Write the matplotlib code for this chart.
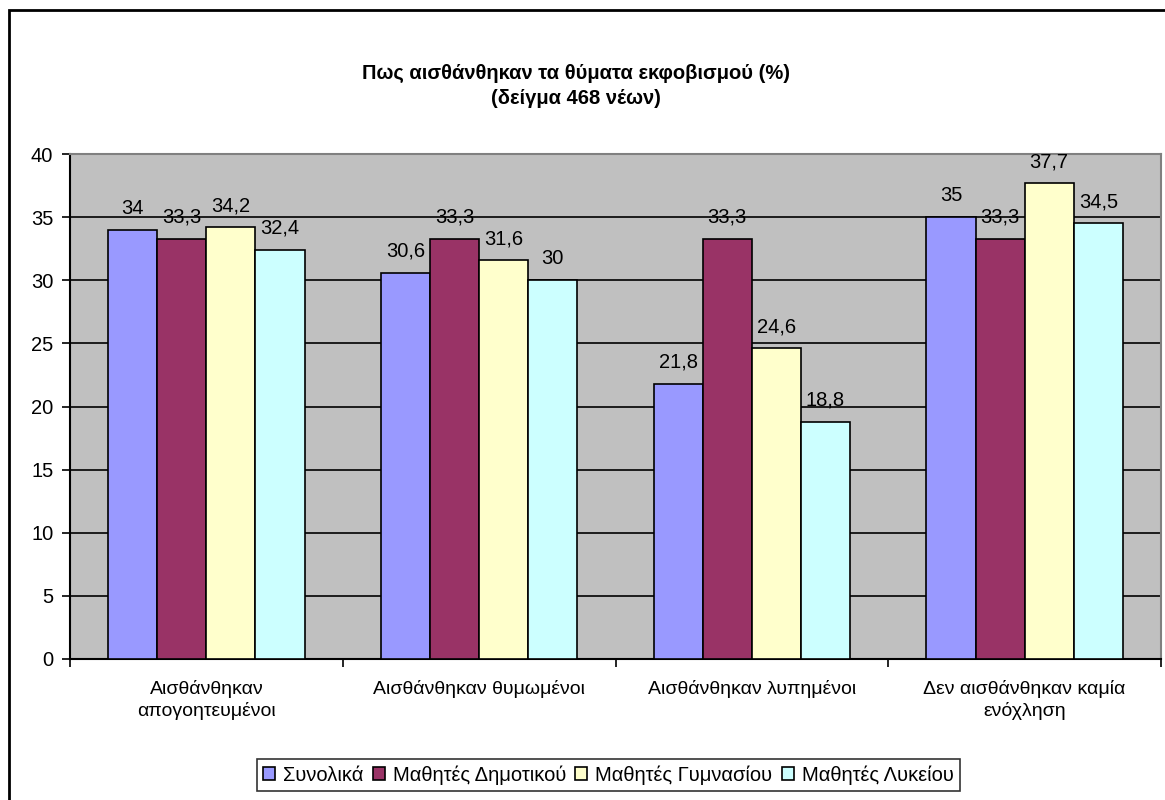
import numpy as np
import matplotlib.pyplot as plt
from matplotlib.patches import Rectangle

plt.rcParams['font.family'] = ['Liberation Sans', 'DejaVu Sans']

categories = ['Αισθάνθηκαν\nαπογοητευμένοι', 'Αισθάνθηκαν θυμωμένοι',
              'Αισθάνθηκαν λυπημένοι', 'Δεν αισθάνθηκαν καμία\nενόχληση']
series_names = ['Συνολικά', 'Μαθητές Δημοτικού', 'Μαθητές Γυμνασίου', 'Μαθητές Λυκείου']
synolika = [34, 30.6, 21.8, 35]
dimotiko = [33.3, 33.3, 33.3, 33.3]
gymnasio = [34.2, 31.6, 24.6, 37.7]
lykeio = [32.4, 30, 18.8, 34.5]
colors = ['#9999FF', '#993366', '#FFFFCC', '#CCFFFF']


def fmt(v):
    s = ('%.1f' % v).rstrip('0').rstrip('.')
    return s.replace('.', ',')


fig = plt.figure(figsize=(11.65, 8), dpi=100)
ax = fig.add_axes([70 / 1165, 1 - 659 / 800, 1091 / 1165, 505 / 800])
ax.set_facecolor('#C0C0C0')

x = np.arange(len(categories))
w = 0.18
fs = 14.5
all_series = [synolika, dimotiko, gymnasio, lykeio]
for i, vals in enumerate(all_series):
    pos = x + (i - 1.5) * w
    bars = ax.bar(pos, vals, width=w, color=colors[i], edgecolor='black',
                  linewidth=1.2, label=series_names[i], zorder=3)
    for b, v in zip(bars, vals):
        ax.text(b.get_x() + b.get_width() / 2, v + 0.95, fmt(v), ha='center',
                va='bottom', fontsize=fs, zorder=4)

ax.set_xlim(-0.5, 3.5)
ax.set_ylim(0, 40)
ax.set_yticks(range(0, 41, 5))
ax.yaxis.grid(True, color='black', linewidth=1.2, zorder=1)
ax.set_axisbelow(True)
ax.tick_params(axis='y', direction='out', length=6, width=1.2, labelsize=fs, pad=6)

ax.set_xticks(np.arange(-0.5, 4, 1))
ax.set_xticklabels([])
ax.set_xticks(x, minor=True)
ax.set_xticklabels(categories, minor=True, fontsize=14, linespacing=1.3)
ax.tick_params(axis='x', which='major', direction='out', length=6, width=1.2)
ax.tick_params(axis='x', which='minor', length=0, pad=15)

for s in ['left', 'bottom']:
    ax.spines[s].set_color('black')
    ax.spines[s].set_linewidth(1.5)
for s in ['top', 'right']:
    ax.spines[s].set_color('#808080')
    ax.spines[s].set_linewidth(1.5)

fig.text(0.4945, 1 - 86 / 800, 'Πως αισθάνθηκαν τα θύματα εκφοβισμού (%)\n(δείγμα 468 νέων)',
         ha='center', va='center', fontsize=14.5, fontweight='bold', linespacing=1.4)

leg = ax.legend(loc='upper left', bbox_to_anchor=(257 / 1165, 1 - 759 / 800),
                bbox_transform=fig.transFigure, ncol=4, fontsize=14.5,
                frameon=True, fancybox=False, edgecolor='black',
                handlelength=0.6, handleheight=0.6, handletextpad=0.4,
                columnspacing=0.45, borderpad=0.3, borderaxespad=0)
leg.get_frame().set_linewidth(1.2)

fig.patches.append(Rectangle((9 / 1165, -0.05), 1.2, 1 - 10 / 800 + 0.05,
                             transform=fig.transFigure, fill=False,
                             edgecolor='black', linewidth=2))

fig.savefig('out.png', dpi=100)
